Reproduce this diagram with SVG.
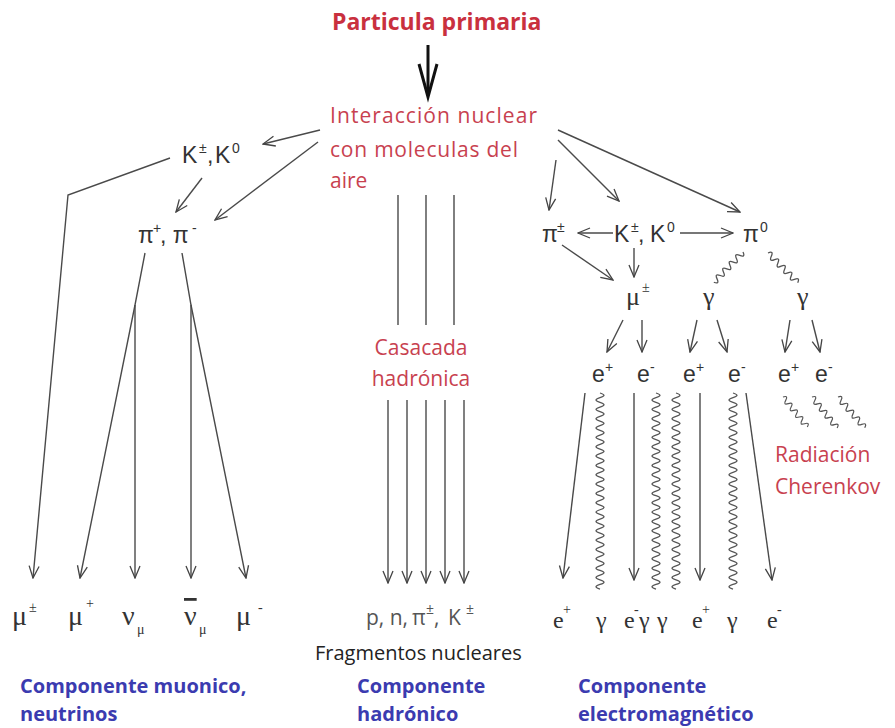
<svg xmlns="http://www.w3.org/2000/svg" xmlns:xlink="http://www.w3.org/1999/xlink" width="895" height="728" viewBox="0 0 895 728">
<style>
.title{font-family:"Open Sans",sans-serif;font-weight:bold;font-size:23px;fill:#c9303e}
.red{font-family:"Open Sans",sans-serif;font-size:21px;fill:#c8414f}
.blue{font-family:"Open Sans",sans-serif;font-weight:bold;font-size:20px;fill:#3b3bb0}
.frag{font-family:"Open Sans",sans-serif;font-size:20px;fill:#222}
.sans{font-family:"Liberation Sans",Arial,sans-serif;font-size:23px;fill:#333}
.sansg{font-family:"Open Sans",sans-serif;font-size:21px;fill:#555}
.serif{font-family:"Liberation Serif","Times New Roman",serif;fill:#333}
.sup{font-size:14px}
.ln{fill:none;stroke:#4a4a4a;stroke-width:1.4}
.arr{marker-end:url(#ah)}
.wv{fill:none;stroke:#555;stroke-width:1.3}
</style>
<defs>
<marker id="ah" viewBox="0 0 14 12" refX="13" refY="6" markerWidth="14" markerHeight="12" markerUnits="userSpaceOnUse" orient="auto">
<path d="M1,1 L13,6 L1,11" fill="none" stroke="#444" stroke-width="1.3"/>
</marker>
<path id="wh" d="M0,0 q2.33,-6 4.67,0 t4.67,0 t4.67,0 t4.67,0 t4.67,0 t4.67,0 t4.67,0 t4.67,0 t4.67,0"/>
<path id="wvert" d="M0,0 q8,2.33 0,4.67 t0,4.67 t0,4.67 t0,4.67 t0,4.67 t0,4.67 t0,4.67 t0,4.67 t0,4.67 t0,4.67 t0,4.67 t0,4.67 t0,4.67 t0,4.67 t0,4.67 t0,4.67 t0,4.67 t0,4.67 t0,4.67 t0,4.67 t0,4.67 t0,4.67 t0,4.67 t0,4.67 t0,4.67 t0,4.67 t0,4.67 t0,4.67 t0,4.67 t0,4.67 t0,4.67 t0,4.67 t0,4.67 t0,4.67 t0,4.67 t0,4.67 t0,4.67 t0,4.67 t0,4.67 t0,4.67 t0,4.67 t0,4.67"/>
</defs>
<rect width="895" height="728" fill="#fff"/>

<g id="connectors">
<path d="M428,45 L428,95" fill="none" stroke="#111" stroke-width="3"/>
<path d="M419,64 L428,97 L437,64" fill="none" stroke="#111" stroke-width="3"/>
<path class="ln arr" d="M320,130 L263,144"/>
<path class="ln arr" d="M318,142 L215,220"/>
<path class="ln arr" d="M202,178 L176,212"/>
<path class="ln arr" d="M170,158 L68,195 L33,578"/>
<path class="ln arr" d="M145,253 L135,305 L80,578"/>
<path class="ln arr" d="M135,305 L135,578"/>
<path class="ln arr" d="M182,253 L191,305 L246,578"/>
<path class="ln arr" d="M191,305 L191,578"/>
<path class="ln" d="M398,195 V325 M426,195 V325 M454,195 V325"/>
<path class="ln arr" d="M388,400 V583"/>
<path class="ln arr" d="M407,400 V583"/>
<path class="ln arr" d="M426,400 V583"/>
<path class="ln arr" d="M445,400 V583"/>
<path class="ln arr" d="M464,400 V583"/>
<path class="ln arr" d="M558,130 L740,212"/>
<path class="ln arr" d="M558,140 L619,201"/>
<path class="ln arr" d="M556,160 L549,210"/>
<path class="ln arr" d="M613,233 L578,233"/>
<path class="ln arr" d="M680,233 L733,233"/>
<path class="ln arr" d="M634,248 L634,277"/>
<path class="ln arr" d="M562,245 L613,280"/>
<use href="#wh" class="wv" transform="translate(743,252) rotate(134)"/>
<use href="#wh" class="wv" transform="translate(768,253) rotate(45)"/>
<path class="ln arr" d="M623,320 L607,352"/>
<path class="ln arr" d="M642,320 L642,352"/>
<path class="ln arr" d="M697,320 L690,352"/>
<path class="ln arr" d="M717,320 L727,352"/>
<path class="ln arr" d="M790,320 L785,352"/>
<path class="ln arr" d="M812,320 L820,352"/>
<use href="#wh" class="wv" transform="translate(783,397) rotate(51) scale(0.92)"/>
<use href="#wh" class="wv" transform="translate(812,397) rotate(51) scale(0.95)"/>
<use href="#wh" class="wv" transform="translate(838,397) rotate(49) scale(0.97)"/>
<path class="ln arr" d="M585,393 L563,578"/>
<use href="#wvert" class="wv" transform="translate(600,393)"/>
<path class="ln arr" d="M634,393 L634,580"/>
<use href="#wvert" class="wv" transform="translate(656,393)"/>
<use href="#wvert" class="wv" transform="translate(676,393)"/>
<path class="ln arr" d="M700,393 L700,580"/>
<use href="#wvert" class="wv" transform="translate(733,393)"/>
<path class="ln arr" d="M746,393 L772,580"/>
</g>

<g id="primary"><text class="title" x="332" y="30">Particula primaria</text></g>
<g id="interaction">
<text class="red" x="330" y="123" textLength="207">Interacción nuclear</text>
<text class="red" x="330" y="157" textLength="188">con moleculas del</text>
<text class="red" x="330" y="188">aire</text>
</g>

<g id="kaons-left"><text class="sans" x="182" y="163">K<tspan class="sup" x="199" dy="-10">±</tspan><tspan x="207" dy="10">,</tspan><tspan x="215">K</tspan><tspan class="sup" x="232" dy="-10">0</tspan></text></g>
<g id="pions-left"><text class="sans" x="138" y="243">π<tspan class="sup" x="153" dy="-10">+</tspan><tspan x="160" dy="10">, π</tspan><tspan class="sup" x="192" dy="-10">-</tspan></text></g>

<g id="muonic-products">
<text class="serif" font-size="28" x="12" y="625">μ<tspan class="sup" x="29" dy="-13">±</tspan></text>
<text class="serif" font-size="28" x="68" y="625">μ<tspan class="sup" x="86" dy="-17">+</tspan></text>
<text class="serif" font-size="28" x="122" y="625">ν<tspan class="sup" x="137" dy="9">μ</tspan></text>
<text class="serif" font-size="28" x="184" y="625"><tspan text-decoration="overline">ν</tspan><tspan class="sup" x="199" dy="9">μ</tspan></text>
<text class="serif" font-size="28" x="236" y="625">μ<tspan class="sup" x="258" dy="-13">-</tspan></text>
</g>

<g id="cascade"><text class="red" x="421" y="355" text-anchor="middle" font-size="22">Casacada</text><text class="red" x="421" y="386" text-anchor="middle" font-size="22">hadrónica</text></g>

<g id="hadron-products"><text class="sansg" x="366" y="625">p, n, <tspan x="412">π</tspan><tspan class="sup" x="426" dy="-11">±</tspan><tspan x="434" dy="11">, </tspan><tspan x="448">K</tspan><tspan class="sup" x="466" dy="-11">±</tspan></text></g>
<g id="fragments"><text class="frag" x="315" y="660">Fragmentos nucleares</text></g>

<g id="pion-right"><text class="sans" x="542" y="242">π<tspan class="sup" x="557" dy="-10">±</tspan></text></g>
<g id="kaons-right"><text class="sans" font-size="22" x="614" y="242">K<tspan class="sup" x="631" dy="-10">±</tspan><tspan x="638" dy="10">,</tspan><tspan x="650">K</tspan><tspan class="sup" x="667" dy="-10">0</tspan></text></g>
<g id="pi0"><text class="sans" x="743" y="242">π<tspan class="sup" x="760" dy="-10">0</tspan></text></g>
<g id="muon-right"><text class="serif" font-size="26" x="626" y="305">μ<tspan class="sup" x="642" dy="-13">±</tspan></text></g>
<g id="gamma1"><text class="serif" font-size="26" x="703" y="305">γ</text></g>
<g id="gamma2"><text class="serif" font-size="26" x="797" y="305">γ</text></g>

<g id="electrons">
<text class="sans" font-size="22" x="592" y="382">e<tspan class="sup" x="605" dy="-10">+</tspan></text>
<text class="sans" font-size="22" x="637" y="382">e<tspan class="sup" x="650" dy="-10">-</tspan></text>
<text class="sans" font-size="22" x="683" y="382">e<tspan class="sup" x="696" dy="-10">+</tspan></text>
<text class="sans" font-size="22" x="728" y="382">e<tspan class="sup" x="741" dy="-10">-</tspan></text>
<text class="sans" font-size="22" x="778" y="382">e<tspan class="sup" x="791" dy="-10">+</tspan></text>
<text class="sans" font-size="22" x="815" y="382">e<tspan class="sup" x="828" dy="-10">-</tspan></text>
</g>

<g id="cherenkov"><text class="red" font-size="20" x="775" y="462">Radiación</text><text class="red" font-size="20" x="775" y="494">Cherenkov</text></g>

<g id="em-products">
<text class="serif" font-size="24" x="553" y="628">e<tspan class="sup" x="563" dy="-14">+</tspan></text>
<text class="serif" font-size="24" x="596" y="628">γ</text>
<text class="serif" font-size="24" x="624" y="628">e<tspan class="sup" x="634" dy="-14">-</tspan></text>
<text class="serif" font-size="24" x="639" y="628">γ</text>
<text class="serif" font-size="24" x="657" y="628">γ</text>
<text class="serif" font-size="24" x="692" y="628">e<tspan class="sup" x="702" dy="-14">+</tspan></text>
<text class="serif" font-size="24" x="727" y="628">γ</text>
<text class="serif" font-size="24" x="767" y="628">e<tspan class="sup" x="777" dy="-14">-</tspan></text>
</g>

<g id="label-muonic"><text class="blue" x="20" y="693">Componente muonico,</text><text class="blue" x="20" y="721">neutrinos</text></g>
<g id="label-hadronic"><text class="blue" x="357" y="693">Componente</text><text class="blue" x="357" y="721">hadrónico</text></g>
<g id="label-em"><text class="blue" x="578" y="693">Componente</text><text class="blue" x="578" y="721">electromagnético</text></g>
</svg>
